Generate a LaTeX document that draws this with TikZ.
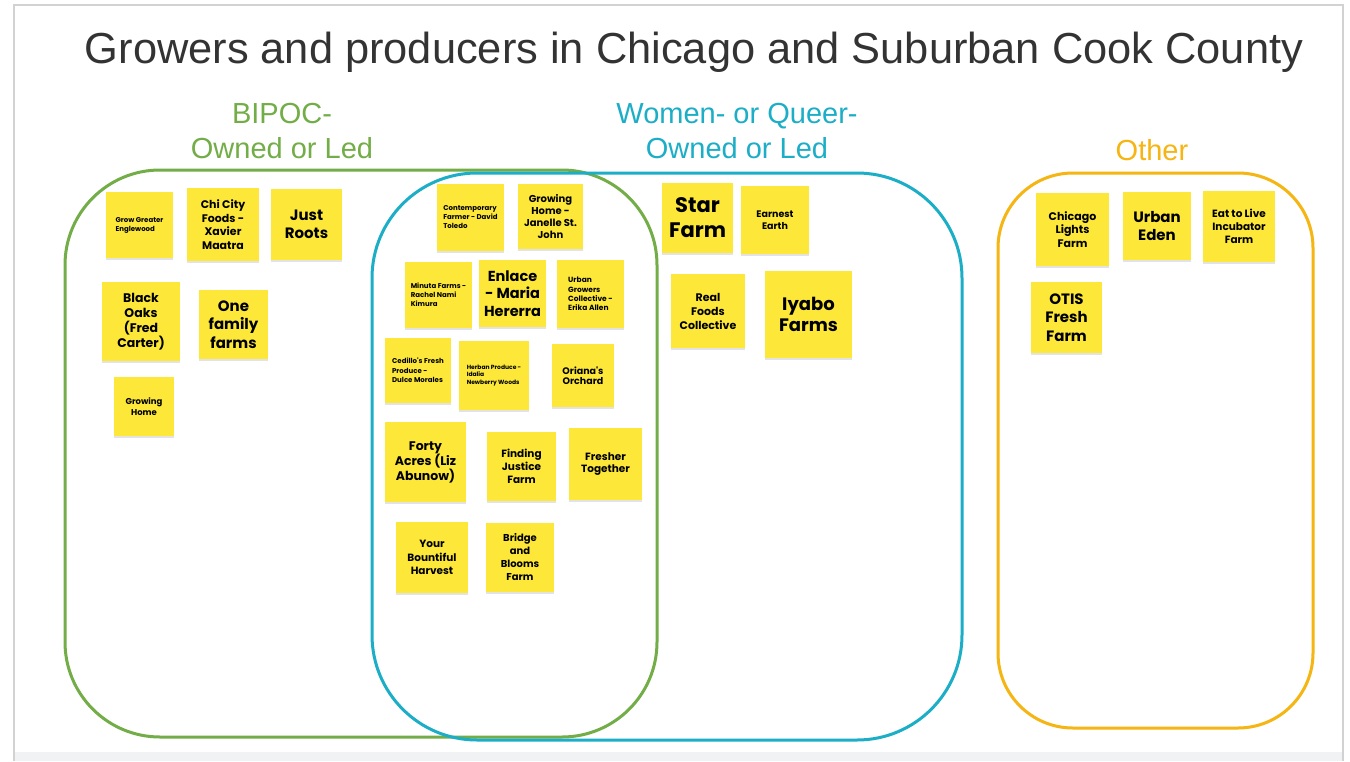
\documentclass[tikz,border=0pt]{standalone}
\usepackage{fontspec}
\setmainfont{Liberation Sans}
\newfontfamily\stickyfont{Poppins}
\usepackage{tikz}
\usetikzlibrary{shadows}

\definecolor{bipocgreen}{HTML}{72AD47}
\definecolor{queerteal}{HTML}{1CAEC6}
\definecolor{otherorange}{HTML}{F5B512}
\definecolor{stickyyellow}{HTML}{FDE83A}
\definecolor{framegray}{HTML}{D2D2D2}
\definecolor{bandgray}{HTML}{F1F2F4}
\definecolor{titlegray}{HTML}{333333}

\begin{document}
\begin{tikzpicture}[x=1pt,y=-1pt,
		sticky/.style 2 args={fill=stickyyellow,minimum width=#1pt,minimum height=#2pt,inner sep=1pt,align=center,text=black,
			drop shadow={shadow xshift=0.3pt,shadow yshift=-1.6pt,opacity=0.22}},
		fs/.style 2 args={font=\stickyfont\bfseries\fontsize{#1}{#2}\selectfont},
		group/.style={font=\fontsize{29}{35}\selectfont,align=center,inner sep=0pt},
		ring/.style={line width=3pt,rounded corners=#1}]
		\fill[white] (0,0) rectangle (1350,761);
		\useasboundingbox (0,0) rectangle (1350,761);
		\fill[bandgray] (15,752) rectangle (1342,761);
		\draw[framegray,line width=2.5pt] (14,761) -- (14,5) -- (1343,5) -- (1343,761);
		
		\node[titlegray,anchor=base,inner sep=0pt,font=\fontsize{43.4}{52}\selectfont] (title) at (694,63) {Growers and producers in Chicago and Suburban Cook County};
		
		\node[group,bipocgreen,anchor=north] (bipoc) at (282,103) {BIPOC-\\Owned or Led};
		\node[group,queerteal,anchor=north] (queer) at (737,103) {Women- or Queer-\\Owned or Led};
		\node[group,otherorange,anchor=base] (other) at (1152,160) {Other};
		
		\draw[ring=95pt,bipocgreen] (65,170) rectangle (657,737);
		\draw[ring=105pt,queerteal] (372,173) rectangle (962,740);
		\draw[ring=75pt,otherorange] (998,173) rectangle (1313,728);
		
		\node[sticky={67}{66},fs={7}{9},align=left] (englewood) at (139.5,225) {Grow Greater\\Englewood};
		\node[sticky={72}{73},fs={11}{13.7}] (chicity) at (223,224.5) {Chi City\\Foods -\\Xavier\\Maatra};
		\node[sticky={71}{71},fs={15}{18}] (justroots) at (306.5,224.5) {Just\\Roots};
		\node[sticky={78}{79},fs={12.5}{15}] (blackoaks) at (141,321.5) {Black\\Oaks\\(Fred\\Carter)};
		\node[sticky={69}{69},fs={15}{18.3}] (onefamily) at (233.5,324.5) {One\\family\\farms};
		\node[sticky={60}{59},fs={8.5}{10.7}] (growinghome) at (144,406.5) {Growing\\Home};
		
		\node[sticky={67}{67},fs={7}{9},align=left] (contemporary) at (470.5,217.5) {Contemporary\\Farmer - David\\Toledo};
		\node[sticky={65}{65},fs={10}{12.3}] (janelle) at (550.5,216.5) {Growing\\Home -\\Janelle St.\\John};
		\node[sticky={67}{66},fs={7}{9},align=left] (minuta) at (438.5,295) {Minuta Farms -\\Rachel Nami\\Kimura};
		\node[sticky={67}{67},fs={14.5}{17.5}] (enlace) at (512.5,293.5) {Enlace\\- Maria\\Hererra};
		\node[sticky={67}{68},fs={7.5}{9.3},align=left] (urbangrowers) at (590.5,294) {Urban\\Growers\\Collective -\\Erika Allen};
		\node[sticky={66}{65},fs={7}{9.7},align=left] (cedillo) at (418,370.5) {Cedillo's Fresh\\Produce -\\Dulce Morales};
		\node[sticky={70}{69},fs={6}{7.5},align=left] (herban) at (494,375.5) {Herban Produce -\\Idalia\\Newberry Woods};
		\node[sticky={62}{63},fs={9.5}{10.5}] (oriana) at (583,375.5) {Oriana's\\Orchard};
		\node[sticky={81}{80},fs={12.5}{15}] (fortyacres) at (425.5,462) {Forty\\Acres (Liz\\Abunow)};
		\node[sticky={69}{69},fs={10.5}{12.7}] (findingjustice) at (521.5,466.5) {Finding\\Justice\\Farm};
		\node[sticky={73}{72},fs={10.5}{12.7}] (fresher) at (605.5,464) {Fresher\\Together};
		\node[sticky={72}{71},fs={10.5}{13.3}] (bountiful) at (432,557.5) {Your\\Bountiful\\Harvest};
		\node[sticky={68}{69},fs={10}{13}] (bridge) at (520,557.5) {Bridge\\and\\Blooms\\Farm};
		
		\node[sticky={71}{70},fs={21}{25}] (starfarm) at (697.5,218) {Star\\Farm};
		\node[sticky={68}{68},fs={9.5}{12.3}] (earnest) at (775,220) {Earnest\\Earth};
		\node[sticky={74}{74},fs={11}{14}] (realfoods) at (708,311) {Real\\Foods\\Collective};
		\node[sticky={87}{87},fs={18}{20.5}] (iyabo) at (808.5,314.5) {Iyabo\\Farms};
		
		\node[sticky={73}{73},fs={11}{13.3}] (chilights) at (1072.5,229.5) {Chicago\\Lights\\Farm};
		\node[sticky={68}{68},fs={15}{18}] (urbaneden) at (1157,226) {Urban\\Eden};
		\node[sticky={72}{71},fs={10.5}{13}] (eattolive) at (1239,226.5) {Eat to Live\\Incubator\\Farm};
		\node[sticky={71}{71},fs={15}{18.3}] (otis) at (1066.5,317.5) {OTIS\\Fresh\\Farm};
\end{tikzpicture}
\end{document}
